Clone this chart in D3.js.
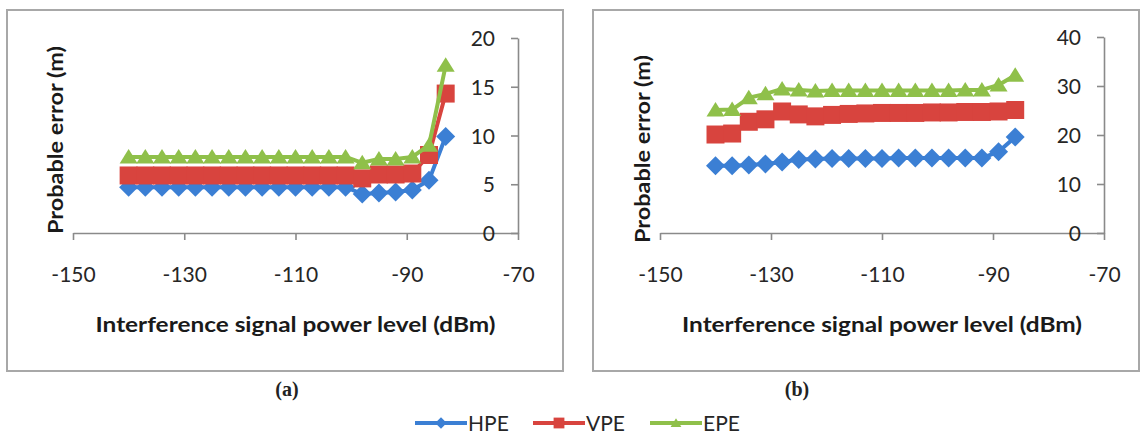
<!DOCTYPE html>
<html>
<head>
<meta charset="utf-8">
<script src="https://cdn.jsdelivr.net/npm/d3@7"></script>
<style>
  html, body { margin: 0; padding: 0; background: #fff; }
  svg { display: block; }
  text { font-family: Lato, "Open Sans", sans-serif; }
</style>
</head>
<body>
<svg id="chart" width="1144" height="434"></svg>
<script>
// ---------- data ----------
const seriesNames = ["HPE", "VPE", "EPE"];

// panel (a)
const xA = [-140,-137,-134,-131,-128,-125,-122,-119,-116,-113,-110,-107,-104,-101,-98,-95,-92,-89,-86,-83];
const hpeA = [4.7,4.7,4.7,4.7,4.7,4.7,4.7,4.7,4.7,4.7,4.7,4.7,4.7,4.7,4.0,4.1,4.2,4.4,5.4,9.9];
const vpeA = [5.9,5.9,5.9,5.9,5.9,5.9,5.9,5.9,5.9,5.9,5.9,5.9,5.9,5.9,5.6,6.0,6.0,6.1,8.0,14.3];
const epeA = [7.8,7.8,7.8,7.8,7.8,7.8,7.8,7.8,7.8,7.8,7.8,7.8,7.8,7.8,7.2,7.6,7.6,7.8,9.0,17.2];

// panel (b)
const xB = [-140,-137,-134,-131,-128,-125,-122,-119,-116,-113,-110,-107,-104,-101,-98,-95,-92,-89,-86];
const hpeB = [13.7,13.7,13.9,14.1,14.5,15.0,15.1,15.2,15.2,15.2,15.2,15.3,15.3,15.3,15.3,15.3,15.3,16.6,19.6];
const vpeB = [20.1,20.3,22.7,23.2,24.8,24.2,23.8,24.1,24.3,24.4,24.5,24.5,24.5,24.6,24.6,24.7,24.7,24.8,25.1];
const epeB = [25.1,25.2,27.6,28.4,29.4,29.2,29.0,29.1,29.1,29.1,29.1,29.1,29.1,29.1,29.1,29.2,29.2,30.2,32.2];

const xTicks = [-150, -130, -110, -90, -70];
const yTicksA = [0, 5, 10, 15, 20];
const yTicksB = [0, 10, 20, 30, 40];

const xLabel = "Interference signal power level (dBm)";
const yLabel = "Probable error (m)";
const panelLabels = ["(a)", "(b)"];

// ---------- styles ----------
const colors = { HPE: "#3b7fd4", VPE: "#d8443e", EPE: "#8fc04a" };
const shapes = { HPE: "diamond", VPE: "square", EPE: "triangle" };

function markerPath(shape, s) {
  if (shape === "diamond") {
    const w = 9.5 * s;
    return `M0,${-w}L${w},0L0,${w}L${-w},0Z`;
  }
  if (shape === "square") {
    const h = 9 * s;
    return `M${-h},${-h}H${h}V${h}H${-h}Z`;
  }
  const w = 9 * s, t = 8 * s, b = 6.5 * s;
  return `M0,${-t}L${w},${b}L${-w},${b}Z`;
}

const svg = d3.select("#chart");
svg.append("rect").attr("width", 1144).attr("height", 434).attr("fill", "#fff");

const panels = [
  { box: [7, 10, 563, 371], xr: [73, 518], yr: [233, 38], ydom: [0, 20], yt: yTicksA,
    xs: xA, data: { HPE: hpeA, VPE: vpeA, EPE: epeA }, ytitle: [55, 140], lab: [287, 396] },
  { box: [593, 10, 1139, 371], xr: [660, 1104], yr: [233, 37], ydom: [0, 40], yt: yTicksB,
    xs: xB, data: { HPE: hpeB, VPE: vpeB, EPE: epeB }, ytitle: [642, 149], lab: [797, 396] }
];

panels.forEach((p, i) => {
  const g = svg.append("g");
  g.append("rect")
    .attr("x", p.box[0]).attr("y", p.box[1])
    .attr("width", p.box[2] - p.box[0]).attr("height", p.box[3] - p.box[1])
    .attr("fill", "#fff").attr("stroke", "#a8a8a8").attr("stroke-width", 2);

  const x = d3.scaleLinear().domain([-150, -70]).range(p.xr);
  const y = d3.scaleLinear().domain(p.ydom).range(p.yr);

  const fmt = d => String(d);
  const xg = g.append("g").attr("transform", `translate(0,${y(0)})`)
    .call(d3.axisBottom(x).tickValues(xTicks).tickSize(7).tickSizeOuter(0).tickFormat(fmt));
  const yg = g.append("g").attr("transform", `translate(${x(-70)},0)`)
    .call(d3.axisLeft(y).tickValues(p.yt).tickSize(7).tickSizeOuter(0).tickFormat(fmt));

  [xg, yg].forEach(ax => {
    ax.select(".domain").attr("stroke", "#8a8a8a").attr("stroke-width", 1.6);
    ax.selectAll(".tick line").attr("stroke", "#8a8a8a").attr("stroke-width", 1.6);
    ax.selectAll(".tick text").attr("fill", "#262626")
      .style("font-family", "Lato, 'Open Sans', sans-serif").style("font-size", "21px");
  });
  xg.selectAll(".tick text").attr("y", 49).attr("dy", 0);
  yg.selectAll(".tick text").attr("x", -23).attr("dy", "0.36em");

  const line = d3.line().x(d => x(d[0])).y(d => y(d[1]));
  seriesNames.forEach(name => {
    const pts = p.xs.map((xv, k) => [xv, p.data[name][k]]);
    const sg = g.append("g");
    sg.append("path").datum(pts).attr("d", line)
      .attr("fill", "none").attr("stroke", colors[name]).attr("stroke-width", 4)
      .attr("stroke-linejoin", "round");
    sg.selectAll("path.mk").data(pts).enter().append("path").attr("class", "mk")
      .attr("transform", d => `translate(${x(d[0])},${y(d[1])})`)
      .attr("d", markerPath(shapes[name], 1))
      .attr("fill", colors[name]);
  });

  const cx = (p.xr[0] + p.xr[1]) / 2;
  g.append("text").attr("x", cx).attr("y", 332).attr("text-anchor", "middle")
    .attr("font-weight", "bold").attr("font-size", 21).attr("fill", "#1a1a1a")
    .attr("textLength", 400).attr("lengthAdjust", "spacingAndGlyphs")
    .text(xLabel);
  g.append("text")
    .attr("transform", `translate(${p.ytitle[0] + 8},${p.ytitle[1]}) rotate(-90)`)
    .attr("text-anchor", "middle")
    .attr("font-weight", "bold").attr("font-size", 21).attr("fill", "#1a1a1a")
    .attr("textLength", 188).attr("lengthAdjust", "spacingAndGlyphs")
    .text(yLabel);

  svg.append("text").attr("x", p.lab[0]).attr("y", p.lab[1]).attr("text-anchor", "middle")
    .style("font-family", "'Liberation Serif', 'DejaVu Serif', serif")
    .style("font-size", "20px")
    .attr("font-weight", "bold").attr("fill", "#222")
    .text(panelLabels[i]);
});

// legend
const legendX = [415, 533, 650];
const lg = svg.append("g");
seriesNames.forEach((name, i) => {
  const x0 = legendX[i];
  const gi = lg.append("g").attr("transform", `translate(${x0},423)`);
  gi.append("line").attr("x1", 0).attr("x2", 52).attr("y1", 0).attr("y2", 0)
    .attr("stroke", colors[name]).attr("stroke-width", 4);
  gi.append("path").attr("transform", "translate(26,0)")
    .attr("d", markerPath(shapes[name], 0.6)).attr("fill", colors[name]);
  gi.append("text").attr("x", 53).attr("y", 8).attr("font-size", 21).attr("fill", "#262626")
    .text(name);
});
</script>
</body>
</html>
